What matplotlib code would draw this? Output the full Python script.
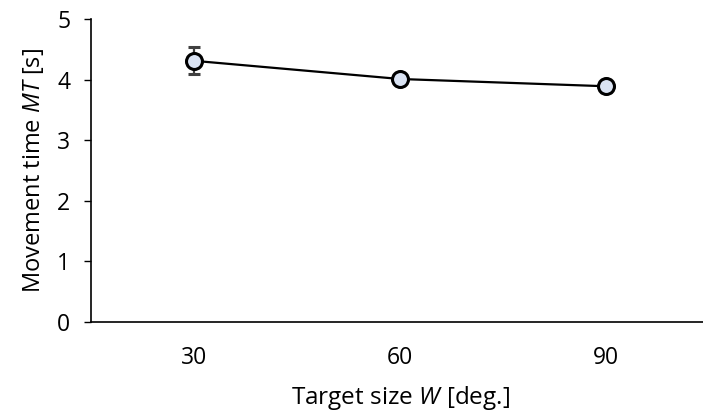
import matplotlib
matplotlib.use("Agg")
import matplotlib.pyplot as plt

categories = ["30", "60", "90"]
mt_values = [4.31, 4.01, 3.89]
mt_errors = [0.22, 0.09, 0.09]
y_ticks = [0, 1, 2, 3, 4, 5]

plt.rcParams['font.family'] = ['Open Sans', 'DejaVu Sans']
plt.rcParams['mathtext.fontset'] = 'custom'
plt.rcParams['mathtext.rm'] = 'Open Sans'
plt.rcParams['mathtext.it'] = 'Open Sans:italic'

fig = plt.figure(figsize=(7.03, 4.20), dpi=100)
ax = fig.add_axes([91/703, 98/420, 618/703, 303/420])

x = list(range(1, len(categories) + 1))
ax.errorbar(x, mt_values, yerr=mt_errors, color='black', linewidth=1.6,
            ecolor='#404040', elinewidth=1.6, capsize=4, capthick=1.6,
            marker='o', markersize=11.5, markerfacecolor='#dae3f3',
            markeredgecolor='black', markeredgewidth=2.2, zorder=3)

ax.set_xlim(0.5, 3.5)
ax.set_ylim(0, 5)
ax.set_xticks(x)
ax.set_xticklabels(categories)
ax.set_yticks(y_ticks)
ax.tick_params(axis='x', length=0, pad=17, labelsize=16.5, colors='black')
ax.tick_params(axis='y', length=5, width=1, direction='out', pad=10, labelsize=16.5)
for s in ['top', 'right']:
    ax.spines[s].set_visible(False)
for s in ['left', 'bottom']:
    ax.spines[s].set_linewidth(1.2)

ax.set_ylabel('Movement time $\\mathit{MT}$ [s]', fontsize=17, labelpad=8)
ax.set_xlabel('Target size $\\mathit{W}\\ $[deg.]', fontsize=17.5, labelpad=10)

fig.savefig('out.png', dpi=100)
